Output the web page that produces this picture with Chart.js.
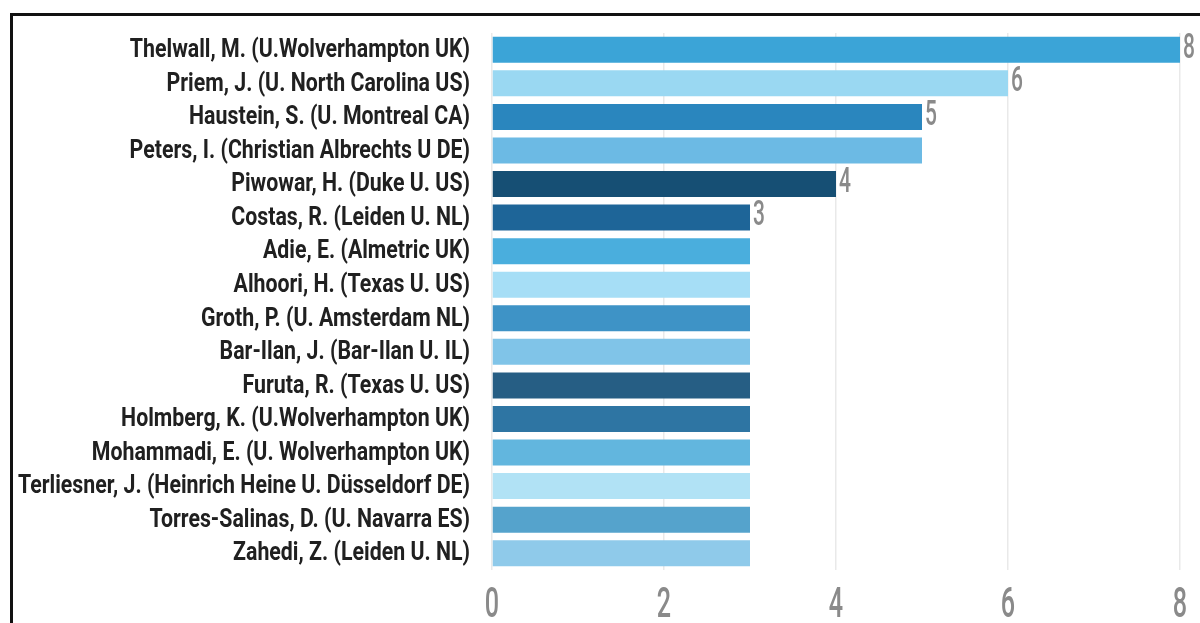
<!DOCTYPE html>
<html>
<head>
<meta charset="utf-8">
<script src="https://cdn.jsdelivr.net/npm/chart.js@4/dist/chart.umd.min.js"></script>
<style>
  html, body { margin: 0; padding: 0; background: #fff; overflow: hidden; }
  #wrap { position: relative; width: 1200px; height: 623px; }
  #frame { position: absolute; left: 10px; top: 13px; width: 1300px; height: 700px; border: 3px solid #111; box-sizing: border-box; pointer-events: none; }
  canvas { position: absolute; left: 0; top: 0; }
</style>
</head>
<body>
<div id="wrap">
  <canvas id="c" width="1200" height="623"></canvas>
  <div id="frame"></div>
</div>
<script>
const categories = [
  "Thelwall, M. (U.Wolverhampton UK)",
  "Priem, J. (U. North Carolina US)",
  "Haustein, S. (U. Montreal CA)",
  "Peters, I. (Christian Albrechts U DE)",
  "Piwowar, H. (Duke U. US)",
  "Costas, R. (Leiden U. NL)",
  "Adie, E. (Almetric UK)",
  "Alhoori, H. (Texas U. US)",
  "Groth, P. (U. Amsterdam NL)",
  "Bar-Ilan, J. (Bar-Ilan U. IL)",
  "Furuta, R. (Texas U. US)",
  "Holmberg, K. (U.Wolverhampton UK)",
  "Mohammadi, E. (U. Wolverhampton UK)",
  "Terliesner, J. (Heinrich Heine U. Düsseldorf DE)",
  "Torres-Salinas, D. (U. Navarra ES)",
  "Zahedi, Z. (Leiden U. NL)"
];
const values = [8, 6, 5, 5, 4, 3, 3, 3, 3, 3, 3, 3, 3, 3, 3, 3];
const barColors = [
  "#3BA4D7", "#9AD8F2", "#2A86BE", "#6CBAE4", "#164F74", "#1E6598",
  "#4AAEDD", "#A6DEF6", "#3E93C6", "#80C4E8", "#265E84", "#2E75A3",
  "#62B6DE", "#B1E2F5", "#55A3CC", "#8FCAEA"
];
const xTicks = [0, 2, 4, 6, 8];

const FONT = "Roboto, 'DejaVu Sans', sans-serif";

// draws condensed text (horizontally squeezed) at a point
function condensedText(ctx, text, x, y, sx, align) {
  ctx.save();
  ctx.translate(x, y);
  ctx.scale(sx, 1);
  ctx.textAlign = align;
  ctx.fillText(text, 0, 0);
  ctx.restore();
}

const textPlugin = {
  id: 'condensedTexts',
  afterDraw(chart) {
    const ctx = chart.ctx;
    const yScale = chart.scales.y;
    const xScale = chart.scales.x;
    const meta = chart.getDatasetMeta(0);
    const area = chart.chartArea;

    // category labels
    ctx.save();
    ctx.font = "bold 25px " + FONT;
    ctx.fillStyle = '#202020';
    ctx.textBaseline = 'middle';
    let maxW = 0;
    categories.forEach(c => { maxW = Math.max(maxW, ctx.measureText(c).width); });
    const sxL = 452 / maxW;
    categories.forEach((c, i) => {
      condensedText(ctx, c, area.left - 22, yScale.getPixelForTick(i) + 1, sxL, 'right');
    });
    ctx.restore();

    // x tick labels
    ctx.save();
    ctx.font = "500 42px " + FONT;
    ctx.fillStyle = '#8a8a8a';
    ctx.textBaseline = 'middle';
    xTicks.forEach(v => {
      condensedText(ctx, String(v), xScale.getPixelForValue(v), 606, 0.6, 'center');
    });
    ctx.restore();

    // value labels (first bar of each value group)
    ctx.save();
    ctx.font = "500 35px " + FONT;
    ctx.fillStyle = '#8a8a8a';
    ctx.textBaseline = 'middle';
    meta.data.forEach((bar, i) => {
      const v = values[i];
      if (i > 0 && values[i - 1] === v) return;
      condensedText(ctx, String(v), bar.x + 3, bar.y - 1, 0.6, 'left');
    });
    ctx.restore();
  }
};

new Chart(document.getElementById('c'), {
  type: 'bar',
  data: {
    labels: categories,
    datasets: [{
      data: values,
      backgroundColor: barColors,
      borderWidth: 0,
      barPercentage: 0.775,
      categoryPercentage: 1.0
    }]
  },
  options: {
    indexAxis: 'y',
    responsive: false,
    animation: false,
    layout: { padding: { top: 33, right: 20, left: 0, bottom: 0 } },
    plugins: { legend: { display: false }, tooltip: { enabled: false } },
    scales: {
      x: {
        min: 0, max: 8,
        afterBuildTicks(scale) { scale.ticks = xTicks.map(v => ({ value: v })); },
        grid: { color: '#e9e9e9', lineWidth: 1.5, drawTicks: false },
        border: { display: false },
        ticks: { display: false },
        afterFit(scale) { scale.height = 53; }
      },
      y: {
        grid: { display: false, drawTicks: false },
        border: { display: false },
        ticks: { display: false, autoSkip: false },
        afterFit(scale) { scale.width = 492; }
      }
    }
  },
  plugins: [textPlugin]
});
</script>
</body>
</html>
